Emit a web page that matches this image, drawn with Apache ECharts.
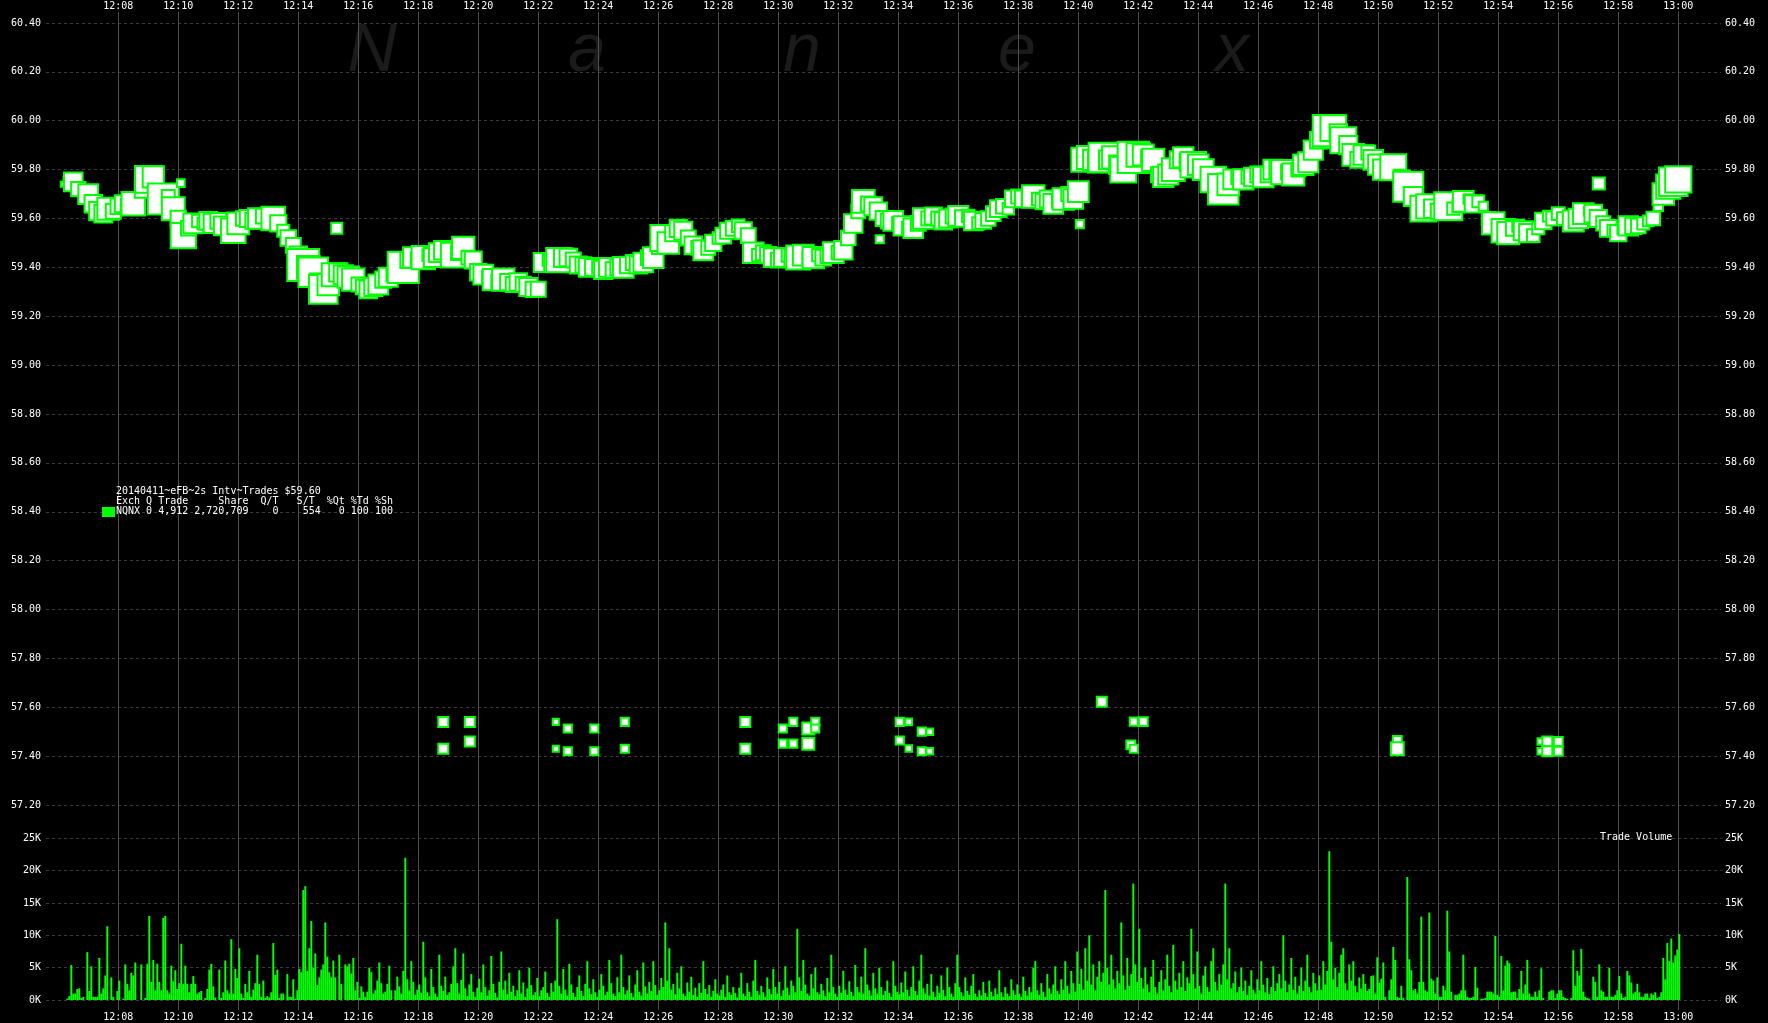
<!DOCTYPE html>
<html><head><meta charset="utf-8">
<script src="https://cdn.jsdelivr.net/npm/echarts@6/dist/echarts.min.js"></script>
<style>html,body{margin:0;padding:0;background:#000;}#c{width:1768px;height:1023px;}</style>
</head><body><div id="c"></div>
<script>
// ---- data ----
const priceStart = '12:06:10';   // first 10-second interval
const priceStepSec = 10;
const prices = [
59.74,59.75,59.75,59.72,59.68,59.70,59.66,59.63,59.62,59.64,
59.63,59.65,59.66,59.65,59.66,59.70,59.72,59.76,59.77,59.70,
59.68,59.69,59.64,59.60,59.53,59.56,59.58,59.59,59.58,59.59,
59.58,59.59,59.57,59.56,59.55,59.58,59.60,59.60,59.59,59.60,
59.61,59.60,59.60,59.58,59.55,59.52,59.49,59.45,59.41,59.40,
59.38,59.34,59.31,59.33,59.37,59.38,59.37,59.36,59.35,59.33,
59.32,59.31,59.32,59.33,59.35,59.36,59.37,59.38,59.40,59.43,
59.44,59.43,59.44,59.45,59.44,59.46,59.47,59.46,59.45,59.46,
59.48,59.44,59.43,59.38,59.37,59.36,59.35,59.34,59.35,59.34,
59.33,59.34,59.33,59.32,59.31,59.31,59.42,59.43,59.42,59.43,
59.44,59.44,59.43,59.41,59.41,59.40,59.40,59.40,59.39,59.40,
59.39,59.40,59.40,59.41,59.42,59.41,59.42,59.44,59.44,59.48,
59.52,59.50,59.54,59.56,59.55,59.52,59.49,59.48,59.47,59.48,
59.50,59.52,59.53,59.55,59.56,59.57,59.55,59.53,59.46,59.45,
59.46,59.45,59.44,59.43,59.44,59.45,59.44,59.44,59.45,59.44,
59.44,59.45,59.44,59.45,59.46,59.46,59.47,59.52,59.58,59.63,
59.67,59.66,59.65,59.63,59.60,59.59,59.59,59.58,59.57,59.56,
59.56,59.58,59.60,59.60,59.61,59.60,59.59,59.60,59.61,59.61,
59.60,59.61,59.59,59.58,59.59,59.60,59.62,59.64,59.65,59.64,
59.68,59.69,59.68,59.68,59.69,59.68,59.67,59.68,59.66,59.67,
59.68,59.70,59.68,59.71,59.84,59.85,59.84,59.83,59.85,59.84,
59.85,59.82,59.80,59.83,59.85,59.86,59.86,59.85,59.84,59.78,
59.77,59.78,59.80,59.84,59.85,59.83,59.82,59.82,59.80,59.77,
59.76,59.74,59.72,59.74,59.76,59.77,59.76,59.77,59.77,59.78,
59.77,59.78,59.80,59.80,59.79,59.79,59.78,59.80,59.82,59.83,
59.88,59.92,59.93,59.96,59.97,59.95,59.92,59.90,59.86,59.84,
59.86,59.87,59.84,59.82,59.80,59.83,59.81,59.78,59.77,59.73,
59.69,59.66,59.64,59.65,59.64,59.63,59.64,59.65,59.64,59.65,
59.67,59.68,59.66,59.67,59.65,59.60,59.58,59.55,59.55,59.54,
59.56,59.57,59.55,59.54,59.53,59.56,59.59,59.61,59.60,59.62,
59.60,59.61,59.59,59.60,59.62,59.63,59.62,59.60,59.58,59.56,
59.55,59.54,59.56,59.57,59.57,59.57,59.58,59.59,59.60,59.65,
59.70,59.73,59.75,59.76
];
// isolated prints: [time, price, shares (K)]
const oddTrades = [
['12:10:05',59.745,0.3],['12:15:17',59.56,1.5],['12:33:23',59.515,0.4],['12:40:03',59.577,0.4],['12:57:21',59.743,2.0],
['12:18:50',57.54,1.0],['12:18:50',57.43,1.0],['12:19:43',57.54,1.0],['12:19:43',57.46,1.0],
['12:22:35',57.54,0.05],['12:22:35',57.43,0.05],['12:22:59',57.513,0.4],['12:22:59',57.42,0.4],
['12:23:52',57.513,0.4],['12:23:52',57.42,0.4],['12:24:53',57.54,0.4],['12:24:53',57.43,0.4],
['12:28:54',57.54,1.0],['12:28:54',57.43,1.0],
['12:30:09',57.513,0.4],['12:30:30',57.54,0.4],['12:30:09',57.451,0.4],['12:30:30',57.451,0.4],
['12:31:00',57.513,2.0],['12:31:14',57.54,0.4],['12:31:14',57.513,0.4],['12:31:00',57.451,2.0],
['12:34:03',57.54,0.4],['12:34:21',57.54,0.1],['12:34:47',57.50,0.4],['12:35:03',57.50,0.1],
['12:34:03',57.464,0.4],['12:34:21',57.431,0.1],['12:34:47',57.42,0.4],['12:35:03',57.42,0.1],
['12:40:47',57.623,1.0],['12:41:45',57.446,0.6],['12:41:51',57.43,0.4],['12:41:51',57.541,0.4],['12:42:10',57.541,0.6],
['12:50:38',57.464,0.6],['12:50:38',57.43,2.5],
['12:55:25',57.46,0.1],['12:55:25',57.42,0.1],['12:55:38',57.46,1.0],['12:55:38',57.42,1.0],
['12:56:00',57.46,0.6],['12:56:00',57.42,0.6]
];
// trade volume (thousands of shares), 4-second buckets from 12:06:00
const volStart = '12:06:00';
const volStepSec = 4;
const volA = [ // 12:06:00 - 12:17:16
0,0,0,0,0.2,0.6,5.4,1.0,1.0,1.7,
1.8,0.3,0.5,0,7.4,1.4,5.2,0.5,0.5,0.5,
6.5,1.0,1.8,3.8,11.4,0,3.5,0.5,0,1.4,
3.0,0,0.2,5.5,2.5,1.5,4.2,3.8,5.8,0,
0,5.5,0,0.3,5.6,13.0,2.8,6.2,1.5,5.6,
2.8,1.5,12.7,13.0,1.5,1.0,5.3,2.9,4.6,1.7,
2.6,8.7,2.5,5.3,2.5,1.2,2.5,3.7,2.5,1.0,
1.2,1.4,0,0.3,1.7,4.7,5.6,2.1,0.4,0,
4.7,0.3,1.2,6.1,1.5,1.0,9.4,1.0,4.8,3.4,
8.0,1.0,0.3,2.5,1.2,4.5,0.5,1.6,2.6,7.0,
2.5,0.5,3.0,0.3,0.6,0.4,1.2,8.8,3.9,4.7,
0.3,1.0,1.0,0,4.0,0.5,0.5,3.2,0.2,1.5,
4.8,4.3,17.0,17.6,4.5,8.0,12.2,5.0,7.2,2.3,
3.5,4.7,5.5,12.0,6.7,4.3,3.5,6.1,3.5,0,
7.0,2.5,0,5.5,5.2,5.6,4.1,6.5,1.5,2.8,
0.3,2.1,1.3,0.5,1.3,5.0,4.3,1.0,1.5,3.0,
5.8,2.6,1.0,1.3,2.5,5.3,1.5,0,1.5,3.6
];
const volB = [ // 12:17:20 - 12:49:36
2.1,1.0,4.5,22.0,3.2,1.5,6.0,2.8,0.8,1.6,
2.4,1.1,9.0,3.5,1.2,0.6,4.8,2.0,1.0,0.5,
7.0,2.2,1.4,3.6,0.8,1.2,2.5,5.2,8.0,2.6,
1.0,3.1,7.2,1.8,0.6,2.4,4.0,1.3,0.5,1.9,
3.3,1.2,5.5,2.0,0.7,1.5,6.8,2.5,1.1,0.4,
2.8,7.5,1.6,3.0,0.9,4.2,1.3,2.2,0.6,1.5,
4.6,1.0,2.7,0.5,1.8,5.0,2.3,0.8,1.2,3.4,
0.6,1.5,2.0,4.4,1.1,0.5,2.6,1.3,3.0,12.5,
2.2,1.0,4.8,1.6,0.7,5.6,2.4,1.1,0.5,2.0,
3.8,1.4,0.6,2.5,6.0,1.8,0.9,3.2,1.2,0.5,
1.6,4.0,2.2,0.8,1.3,6.2,2.6,1.0,0.6,3.5,
1.2,7.0,2.0,0.9,1.5,3.8,1.1,0.5,2.4,4.6,
1.3,0.7,5.8,2.1,1.0,2.8,1.4,6.0,2.3,0.8,
1.5,3.4,2.0,12.0,3.0,8.0,1.6,2.5,0.9,4.2,
1.8,5.2,1.0,0.6,2.7,1.3,3.6,0.8,1.9,0.5,
2.6,1.1,6.0,1.7,0.9,2.3,0.5,1.4,3.2,1.0,
0.7,1.6,2.4,0.5,3.8,1.2,0.8,2.0,1.1,0.4,
1.9,4.2,1.0,0.6,2.6,1.3,0.5,3.0,6.2,1.4,
0.8,2.2,1.2,0.5,3.5,1.7,0.9,4.8,2.0,1.0,
2.8,0.6,1.5,5.2,1.9,0.8,3.0,2.2,1.2,11.0,
3.5,1.4,6.2,2.4,1.0,0.7,4.0,1.8,5.0,1.2,
0.9,2.5,1.5,0.6,3.4,1.2,7.0,2.0,1.0,0.5,
2.2,1.1,4.5,1.6,0.8,2.9,1.3,0.6,5.4,2.0,
1.2,3.6,1.0,8.0,2.4,1.5,0.7,4.2,1.8,1.0,
5.0,2.0,0.8,1.4,3.0,1.1,0.5,6.0,2.2,1.3,
0.9,2.7,1.2,4.4,1.6,0.6,2.0,5.2,1.4,0.8,
3.0,7.0,1.8,1.0,2.5,0.7,4.0,1.3,0.5,2.2,
1.1,3.8,1.6,0.6,5.0,2.0,1.0,0.5,2.6,7.0,
2.0,1.2,0.6,3.5,1.4,0.8,2.2,4.0,1.0,0.5,
1.5,0.7,2.8,1.1,0.5,3.0,1.3,0.6,1.8,0.9,
4.6,1.2,0.5,2.0,1.0,0.6,3.2,1.5,0.8,2.4,
1.0,0.5,3.6,1.4,0.7,2.0,1.2,5.0,6.0,1.5,
0.8,2.6,1.3,0.5,4.0,1.8,1.0,2.4,5.2,1.4,
0.9,3.2,1.6,6.0,2.2,1.0,4.5,2.6,1.3,7.5,
2.5,4.8,1.6,8.0,3.0,10.0,2.4,5.5,1.5,3.6,
6.0,2.8,4.2,17.0,5.0,2.4,7.0,3.2,1.8,4.5,
2.6,12.0,3.8,1.6,6.5,2.2,4.0,18.0,5.5,2.8,
11.0,3.4,1.8,5.0,2.4,1.2,3.6,6.2,2.0,1.0,
2.8,4.6,1.5,3.2,7.0,2.2,1.2,8.5,3.0,1.6,
4.2,2.0,6.0,1.4,3.5,2.6,11.0,4.0,1.8,7.5,
2.2,1.0,3.8,5.2,2.0,1.3,6.0,8.0,2.8,1.5,
4.0,2.4,5.5,18.0,3.2,8.0,1.8,2.6,4.4,1.2,
2.0,5.0,1.4,3.0,0.8,2.2,4.6,1.6,1.0,3.2,
1.5,6.0,2.4,1.2,3.4,0.9,2.0,5.2,1.4,2.6,
4.0,1.8,10.0,3.0,1.2,2.4,6.5,1.6,3.6,1.0,
2.2,5.0,1.4,3.0,7.0,2.0,1.2,4.2,2.6,1.5,
3.8,1.6,6.0,2.4,4.5,23.0,9.0,3.2,5.0,2.0,
4.2,7.0,8.0,2.6,1.5,5.5,3.0,6.0,2.2,1.2,
3.5,1.8,4.0,2.5,1.4
];
const volC = [ // 12:49:40 - 13:00:00
1.7,3.7,3.8,1.0,6.6,2.7,3.3,5.8,0.5,0,
1.5,3.2,8.2,6.2,0.5,0.3,2.2,0.3,0,19.0,
6.3,4.6,1.5,1.7,1.0,2.8,12.9,2.8,1.5,1.3,
13.5,3.3,3.0,1.0,3.5,0.5,0.5,2.2,1.5,13.8,
7.5,1.3,0,0.8,0.8,1.0,1.5,7.0,1.5,0.5,
0.3,0.3,0.5,5.1,1.9,0,0.2,0.2,0.3,1.3,
1.3,1.3,1.0,9.9,0.8,0.5,6.8,1.5,5.3,6.1,
5.7,1.2,1.3,1.3,0.3,1.7,4.5,1.0,2.4,6.2,
1.0,0.5,0.5,1.3,0.5,1.5,4.9,0.3,0,0,
1.3,1.5,1.5,0.3,1.0,1.5,1.5,0.5,0.3,0.2,
0,0.3,7.7,2.2,4.5,3.8,7.9,1.3,0.5,0.3,
0.2,0,3.6,2.8,0.5,5.5,1.5,1.3,0.5,0.5,
5.0,0.5,0.5,0.8,1.5,3.7,1.0,0.3,0.5,4.5,
3.8,2.7,1.0,1.3,2.5,1.2,0.5,0.5,1.0,1.0,
0.3,1.0,0.8,1.2,0.3,0.5,1.2,6.5,3.2,8.8,
6.0,9.5,5.8,6.9,7.8,10.2
];
const priceRange = [57.2, 60.4, 0.2];
const volRange = [0, 25, 5];
const timeRange = ['12:08', '13:00', 2];
const legendLines = [
  '20140411~eFB~2s Intv~Trades $59.60',
  'Exch Q Trade     Share  Q/T   S/T  %Qt %Td %Sh',
  'NQNX 0 4,912 2,720,709    0    554   0 100 100'
];
const watermark = ['N','a','n','e','x'];

// ---- helpers ----
function toSec(s){ const p=s.split(':').map(Number); return (p[0]-12)*3600+p[1]*60+(p[2]||0); }
function fmtTime(sec){ const m=Math.round(sec/60); const h=12+Math.floor(m/60); const mm=m%60; return h+':'+(mm<10?'0':'')+mm; }
const volume = volA.concat(volB, volC);
const v0 = toSec(volStart);
const volData = volume.map((v,i)=>[v0+volStepSec*i+volStepSec/2, v]);
function windowVol(t, half){ let s=0; for(const d of volData){ if(d[0]>=t-half && d[0]<t+half) s+=d[1]; } return s; }
const p0 = toSec(priceStart);
const priceData = prices.map((p,i)=>{ const t=p0+priceStepSec*i; return [t,p,windowVol(t,priceStepSec/2)]; });
const oddData = oddTrades.map(d=>[toSec(d[0]), d[1], d[2]]);
const symSize = v => Math.max(5, Math.min(32, 5 + 5*Math.sqrt(v[2])));

const FONT = '"DejaVu Sans Mono", monospace';
const gridL = 46, gridR = 47;
const xMin = toSec('12:05:35') + 0.4; // plot left edge
const xMax = xMin + 3350;

const lblStyle = {color:'#ffffff', fontFamily:FONT, fontSize:10};
const dash = {show:true, lineStyle:{color:'#3a3a3a', type:[3,3], width:1}};

const chart = echarts.init(document.getElementById('c'), null, {renderer:'canvas'});
chart.setOption({
  backgroundColor:'#000000',
  animation:false,
  textStyle:{fontFamily:FONT},
  grid:[
    {left:gridL, right:gridR, top:23, height:782, outerBoundsMode:'none', containLabel:false},
    {left:gridL, right:gridR, top:838.3, height:161.7, outerBoundsMode:'none', containLabel:false},
    {left:118.3, right:89.7, top:12, bottom:13, outerBoundsMode:'none', containLabel:false}
  ],
  xAxis:[
    {type:'value', gridIndex:0, min:xMin, max:xMax, show:false},
    {type:'value', gridIndex:1, min:xMin, max:xMax, show:false},
    {type:'value', gridIndex:2, position:'top', min:toSec(timeRange[0]), max:toSec(timeRange[1]), interval:timeRange[2]*60,
      axisLine:{show:false}, axisTick:{show:false},
      splitLine:{show:true, lineStyle:{color:'#505050', width:1}},
      axisLabel:Object.assign({margin:1, formatter:fmtTime}, lblStyle)},
    {type:'value', gridIndex:2, position:'bottom', min:toSec(timeRange[0]), max:toSec(timeRange[1]), interval:timeRange[2]*60,
      axisLine:{show:false}, axisTick:{show:false}, splitLine:{show:false},
      axisLabel:Object.assign({margin:2, formatter:fmtTime}, lblStyle)}
  ],
  yAxis:[
    {type:'value', gridIndex:0, position:'left', min:priceRange[0], max:priceRange[1], interval:priceRange[2],
      axisLine:{show:false}, axisTick:{show:false}, splitLine:dash,
      axisLabel:Object.assign({margin:5, formatter:v=>v.toFixed(2)}, lblStyle)},
    {type:'value', gridIndex:0, position:'right', min:priceRange[0], max:priceRange[1], interval:priceRange[2],
      axisLine:{show:false}, axisTick:{show:false}, splitLine:{show:false},
      axisLabel:Object.assign({margin:4, formatter:v=>v.toFixed(2)}, lblStyle)},
    {type:'value', gridIndex:1, position:'left', min:volRange[0], max:volRange[1], interval:volRange[2],
      axisLine:{show:false}, axisTick:{show:false}, splitLine:dash,
      axisLabel:Object.assign({margin:5, formatter:v=>Math.round(v)+'K'}, lblStyle)},
    {type:'value', gridIndex:1, position:'right', min:volRange[0], max:volRange[1], interval:volRange[2],
      axisLine:{show:false}, axisTick:{show:false}, splitLine:{show:false},
      axisLabel:Object.assign({margin:4, formatter:v=>Math.round(v)+'K'}, lblStyle)},
    {type:'value', gridIndex:2, min:0, max:1, show:false}
  ],
  graphic:[
    ...watermark.map((ch,i)=>({type:'text', x:372+i*215, y:52, z:-1, silent:true,
       style:{text:ch, font:'italic 68px "Liberation Sans", sans-serif', fill:'#1b1b1b', textAlign:'center', textVerticalAlign:'middle'}})),
    {type:'rect', shape:{x:102, y:507, width:13, height:10}, style:{fill:'#00ff00'}, z:10},
    ...legendLines.map((t,i)=>({type:'text', x:116, y:491.7+i*10, z:10,
       style:{text:t, font:'10px '+FONT, fill:'#ffffff', textVerticalAlign:'middle'}})),
    {type:'text', x:1600, y:837, z:10, style:{text:'Trade Volume', font:'10px '+FONT, fill:'#ffffff', textVerticalAlign:'middle'}}
  ],
  series:[
    {type:'scatter', xAxisIndex:0, yAxisIndex:0, data:priceData, symbol:'rect', symbolSize:symSize,
      itemStyle:{color:'#ffffff', borderColor:'#00ff00', borderWidth:2, opacity:1}, emphasis:{disabled:true}, z:3},
    {type:'scatter', xAxisIndex:0, yAxisIndex:0, data:oddData, symbol:'rect', symbolSize:symSize,
      itemStyle:{color:'#ffffff', borderColor:'#00ff00', borderWidth:2, opacity:1}, emphasis:{disabled:true}, z:3},
    {type:'bar', xAxisIndex:1, yAxisIndex:2, data:volData, barWidth:2,
      itemStyle:{color:'#00ff00'}, emphasis:{disabled:true}, z:3}
  ]
});
</script></body></html>
